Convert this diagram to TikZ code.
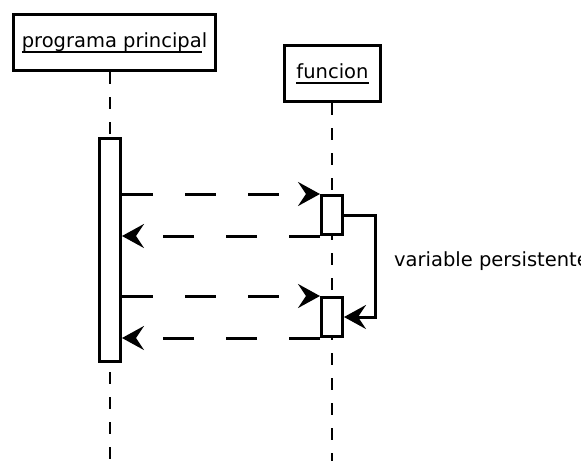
\documentclass[tikz,border=0pt]{standalone}
\usepackage{fontspec}
\setmainfont{DejaVu Sans}
\usetikzlibrary{arrows.meta,positioning}

% underlined object name, rule a little below the baseline
\newcommand{\objname}[1]{\setbox0=\hbox{#1}\rlap{\vrule height -3.5pt depth 5.5pt width \wd0}\box0}

\begin{document}
\begin{tikzpicture}[x=1pt,y=-1pt,>={Stealth[length=22pt,width=24pt,inset=8pt]},
    head/.style={draw,line width=3pt,minimum height=56pt,inner sep=0pt,font=\fontsize{19.5}{23}\selectfont},
    bar/.style={draw,fill=white,line width=3pt,minimum width=21pt,inner sep=0pt},
    lifeline/.style={line width=2pt,dash pattern=on 12pt off 13pt},
    msg/.style={->,line width=3pt,dash pattern=on 31pt off 32pt}]
    \useasboundingbox (0,0) rectangle (581,461);

    \node[head,minimum width=202pt] (main) at (114.5,42.5) {\objname{programa principa}l};
    \node[head,minimum width=96pt] (func) at (332.5,73.5) {\objname{funcion}};

    \coordinate (mainend) at (110,461);
    \coordinate (funcend) at (331.5,461);
    \draw[lifeline] (mainend |- main.south) -- (mainend);
    \draw[lifeline] (funcend |- func.south) -- (funcend);

    \node[bar,minimum height=223pt] (mainbar) at (110,250) {};
    \node[bar,minimum height=39pt] (call1) at (332,215) {};
    \node[bar,minimum height=39pt] (call2) at (332,317) {};

    % calls and returns
    \draw[msg] (call1.north west -| mainbar.east) -- (call1.north west);
    \draw[msg] (call1.south west) -- (call1.south west -| mainbar.east);
    \draw[msg] (call2.north west -| mainbar.east) -- (call2.north west);
    \draw[msg] (call2.south west) -- (call2.south west -| mainbar.east);

    % value kept between the two calls
    \draw[->,line width=3pt] (call1.east) -- ++(31,0) |- (call2.east);
    \node[anchor=base west,inner sep=0pt,font=\fontsize{19.5}{23}\selectfont] (persist) at (394,266) {variable persistente};
\end{tikzpicture}
\end{document}
